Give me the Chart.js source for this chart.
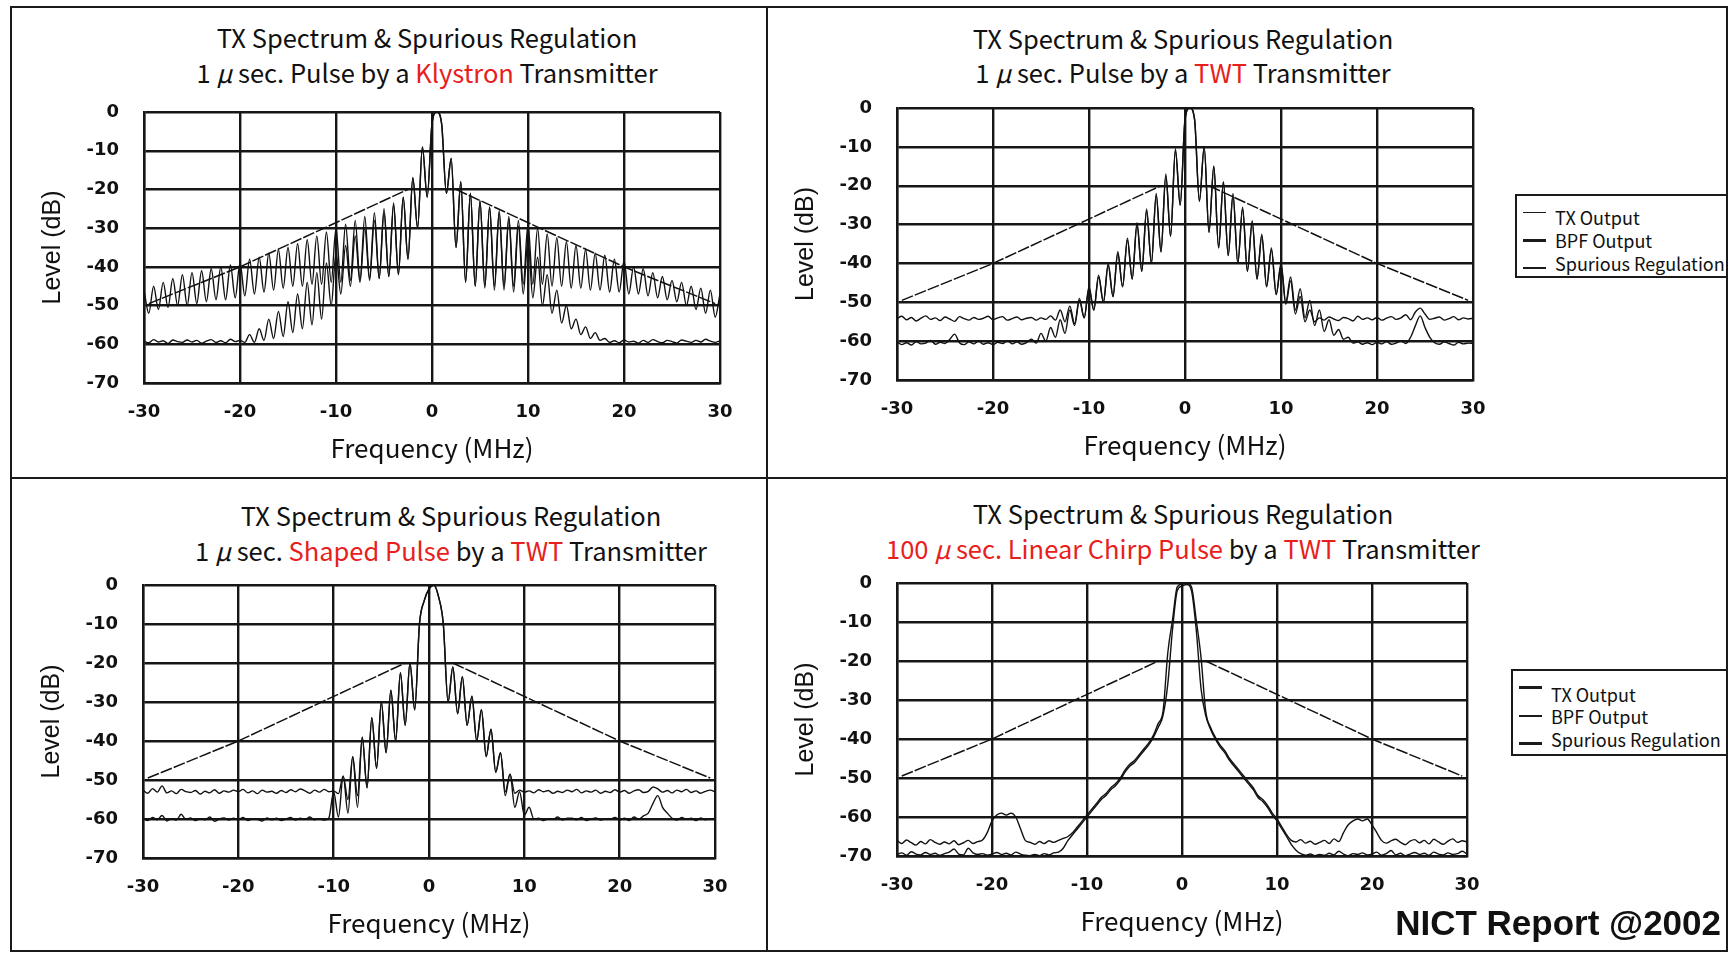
<!DOCTYPE html>
<html>
<head>
<meta charset="utf-8">
<title>TX Spectrum & Spurious Regulation</title>
<script src="https://cdn.jsdelivr.net/npm/chart.js@4.4.0/dist/chart.umd.min.js"></script>
<style>
  body { margin: 0; background: #fff; width: 1729px; height: 954px; position: relative; overflow: hidden; font-family: "Noto Sans CJK JP", sans-serif; color: #111; }
  .line { position: absolute; background: #1a1a1a; }
  .title { position: absolute; white-space: nowrap; font-size: 25.5px; line-height: 36px; transform: translateX(-50%); }
  .red { color: #e8201c; }
  .plot { position: absolute; }
  .legend { position: absolute; border: 2px solid #1a1a1a; box-sizing: border-box; background: #fff; }
  .legend div { position: absolute; left: 38px; font-size: 18px; line-height: 22px; white-space: nowrap; }
  .legend span { position: absolute; left: 6px; width: 23px; background: #1a1a1a; }
  .credit { position: absolute; right: 8px; top: 903px; font-family: "Liberation Sans", Arial, sans-serif; font-weight: bold; font-size: 35px; line-height: 40px; }
</style>
</head>
<body>

<!-- panel frames -->
<div class="line" style="left:10px;top:6px;width:1717px;height:2px"></div>
<div class="line" style="left:10px;top:950px;width:1717px;height:2px"></div>
<div class="line" style="left:10px;top:6px;width:2px;height:946px"></div>
<div class="line" style="left:1726px;top:6px;width:2px;height:946px"></div>
<div class="line" style="left:766px;top:6px;width:2px;height:946px"></div>
<div class="line" style="left:10px;top:477px;width:1717px;height:2px"></div>

<!-- titles -->
<div class="title" style="left:427px;top:19px">TX Spectrum &amp; Spurious Regulation</div>
<div class="title" style="left:427px;top:54px">1 <i>μ</i> sec. Pulse by a <span class="red">Klystron</span> Transmitter</div>
<div class="title" style="left:1183px;top:20px">TX Spectrum &amp; Spurious Regulation</div>
<div class="title" style="left:1183px;top:54px">1 <i>μ</i> sec. Pulse by a <span class="red">TWT</span> Transmitter</div>
<div class="title" style="left:451px;top:497px">TX Spectrum &amp; Spurious Regulation</div>
<div class="title" style="left:451px;top:532px">1 <i>μ</i> sec. <span class="red">Shaped Pulse</span> by a <span class="red">TWT</span> Transmitter</div>
<div class="title" style="left:1183px;top:495px">TX Spectrum &amp; Spurious Regulation</div>
<div class="title" style="left:1183px;top:530px"><span class="red">100 <i>μ</i> sec. Linear Chirp Pulse</span> by a <span class="red">TWT</span> Transmitter</div>

<div class="plot" style="left:34px;top:72px"><canvas id="klystron" width="726" height="393"></canvas></div>
<div class="plot" style="left:787px;top:68px"><canvas id="twt" width="726" height="394"></canvas></div>
<div class="plot" style="left:33px;top:545px"><canvas id="shaped" width="722" height="395"></canvas></div>
<div class="plot" style="left:787px;top:543px"><canvas id="chirp" width="720" height="395"></canvas></div>

<!-- legends -->
<div class="legend" style="left:1515px;top:194px;width:213px;height:84px">
  <span style="top:16px;height:1px"></span><div style="top:10px">TX Output</div>
  <span style="top:43px;height:3px"></span><div style="top:33px">BPF Output</div>
  <span style="top:71px;height:2px"></span><div style="top:56px">Spurious Regulation</div>
</div>
<div class="legend" style="left:1511px;top:669px;width:217px;height:87px">
  <span style="top:15px;height:3px"></span><div style="top:12px">TX Output</div>
  <span style="top:44px;height:2px"></span><div style="top:34px">BPF Output</div>
  <span style="top:71px;height:3px"></span><div style="top:57px">Spurious Regulation</div>
</div>

<div class="credit">NICT Report @2002</div>

<script>
// sample grid: -30 .. 30 MHz every 0.5 MHz (121 points)
let freq = [];
for (let i = 0; i <= 120; i++) freq.push(-30 + i * 0.5);

let freqTicks = [-30, -20, -10, 0, 10, 20, 30];
let levelTicks = [0, -10, -20, -30, -40, -50, -60, -70];

// spurious regulation mask (same in every panel)
let maskFreq = [-29.5, -20, -2.5, 0, 2.5, 20, 29.5];
let maskLevel = [-49.5, -40, -20, null, -20, -40, -49.5];

// 1 usec pulse, klystron
let klystronTx = [
  -46, -52, -45, -51, -44, -50.5, -43, -50, -42, -50,
  -41.5, -49.5, -41, -49, -40.5, -48.5, -40, -48.5, -39.5, -48,
  -39, -47.5, -38, -47, -37.5, -46.5, -36.5, -46, -35.5, -45.5,
  -35, -45, -34, -45, -33, -44.5, -32, -44.5, -31, -44,
  -30, -44, -29, -43.5, -28, -43.5, -27, -43, -26, -43,
  -25, -42.5, -23.5, -42, -22, -38, -17, -30, -9, -22,
  -3, 0, -3, -21, -12, -35, -18, -44, -21, -45,
  -23, -45, -24.5, -45, -25.5, -45, -27, -45, -28, -44.5,
  -29, -44.5, -30, -44.5, -31.5, -45, -32.5, -45, -33.5, -45.5,
  -34.5, -45.5, -35.5, -46, -36.5, -46, -37, -46.5, -38, -46.5,
  -38.5, -47, -40, -47, -40.5, -47.5, -41.5, -48, -42.5, -48.5,
  -43.5, -49, -44, -50, -45, -51, -45.5, -52, -46, -53,
  -47
];
let klystronBpf = [
  -59.2, -59.6, -58.8, -59.4, -59.1, -59.8, -58.9, -59.3, -59.5, -58.9,
  -59.4, -59.0, -59.7, -59.2, -58.8, -59.5, -59.1, -59.6, -58.7, -59.3,
  -59.0, -59.5, -57.5, -59.5, -56, -59, -53.5, -58.5, -51.5, -58,
  -49, -57, -47, -56, -44, -55, -41.5, -53.5, -39, -50,
  -36.5, -47, -34.5, -45, -32, -44, -30, -43.5, -28, -43,
  -26, -42.5, -24, -42, -22, -38, -17, -30, -9, -22,
  -3, 0, -3, -21, -12, -35, -18, -44, -21, -45,
  -23, -45.5, -24.5, -46, -26, -46, -27.5, -46.5, -29.5, -47,
  -33, -48, -37.5, -50, -42, -52, -46, -54.5, -50, -56,
  -53.5, -57.5, -55.5, -58.5, -57, -59, -58.5, -59.5, -59.1, -59.6,
  -58.9, -59.4, -59.2, -59.7, -59.0, -59.5, -58.8, -59.3, -59.6, -59.0,
  -59.3, -59.7, -58.9, -59.2, -59.5, -59.0, -59.4, -58.7, -59.2, -59.5,
  -59.1
];

// 1 usec pulse, TWT
let twtTx = [
  -60.2, -60.9, -60.4, -61.0, -60.1, -60.7, -60.5, -59.8, -60.8, -60.3,
  -60.6, -59.5, -58.2, -60.4, -60.9, -60.2, -60.7, -60.0, -60.8, -60.4,
  -60.9, -60.3, -60.6, -59.9, -60.7, -60.2, -60.8, -60.4, -59.5, -60.5,
  -58, -60, -56.5, -59, -54.5, -58, -52, -56, -49.5, -54,
  -46.5, -52, -43.5, -50, -40.5, -48.5, -37.5, -46, -34, -44,
  -30, -42, -26.5, -40, -22.5, -37, -17.5, -33, -11, -25,
  -3, 0, -3, -24, -10, -32, -15, -36, -19, -38,
  -22.5, -40, -26, -42, -29.5, -44, -33, -46, -36.5, -48,
  -40, -50, -43.5, -52, -46.5, -54, -49.5, -56, -52, -57.5,
  -54.5, -58.5, -57, -59.5, -59, -60.5, -60.2, -60.8, -60.4, -60.9,
  -60.3, -60.7, -60.1, -60.8, -60.5, -60.0, -60.6, -59, -56, -53.5,
  -56.5, -59, -60.4, -60.8, -60.2, -60.6, -61.0, -60.3, -60.7, -60.5,
  -60.6
];
let twtBpf = [
  -54.2, -53.6, -54.5, -53.9, -54.8, -54.1, -53.5, -54.4, -54.0, -54.7,
  -53.8, -54.3, -54.9, -53.7, -54.2, -54.6, -53.9, -54.4, -54.1, -53.6,
  -54.5, -54.0, -53.7, -54.6, -54.2, -53.8, -54.5, -54.1, -53.9, -54.6,
  -54.0, -54.4, -53.5, -54.6, -52, -55, -51, -55.5, -49, -54,
  -46, -52, -43, -50, -40, -48.5, -37, -46, -33.5, -44,
  -29.5, -42, -26, -40, -22, -37, -17, -33, -10.5, -25,
  -3, 0, -3, -24, -10, -32, -15, -36, -19, -38,
  -22, -40, -25.5, -42, -29, -44, -32.5, -46, -36, -48,
  -40.5, -50.5, -44.5, -53, -48.5, -55, -52, -55, -54, -54.6,
  -53.8, -54.3, -54.7, -53.9, -54.2, -54.8, -53.6, -54.4, -54.0, -54.5,
  -53.9, -54.6, -54.1, -53.7, -54.4, -54.0, -53.2, -54.5, -52.5, -51.5,
  -53, -54.4, -54.1, -53.8, -54.6, -54.2, -53.7, -54.5, -54.0, -54.3,
  -54.1
];

// 1 usec shaped pulse, TWT
let shapedTx = [
  -59.8, -60.4, -59.6, -60.2, -59.1, -60.5, -59.9, -60.3, -58.8, -60.1,
  -59.7, -60.4, -59.9, -60.2, -59.5, -60.6, -60.0, -59.7, -60.3, -59.8,
  -60.2, -59.6, -60.4, -59.9, -60.1, -60.5, -59.7, -60.2, -59.8, -60.4,
  -60.0, -59.6, -60.3, -59.8, -60.1, -59.5, -60.2, -59.9, -60.3, -59.7,
  -53, -59.5, -49, -58.5, -44, -57, -39, -52, -34, -47,
  -30, -43, -27, -40, -22.5, -36, -20, -32, -10, -4,
  -1, 0, -3, -10, -30, -21, -33, -23.5, -36, -28.5,
  -40, -32, -44, -37, -48, -43, -54, -48.5, -57, -53,
  -59, -57, -60, -59.8, -60.4, -59.9, -60.1, -59.5, -60.3, -59.8,
  -59.8, -60.2, -59.6, -60.4, -60.0, -59.7, -60.3, -59.9, -60.1, -59.6,
  -60.2, -59.8, -60.4, -59.5, -60.0, -59.2, -58.5, -56, -54, -57,
  -58.5, -59.8, -60.3, -59.6, -60.1, -59.8, -60.4, -59.7, -60.2, -59.9,
  -60.0
];
let shapedBpf = [
  -52.6, -53.4, -52.2, -53.1, -51.5, -53.3, -52.8, -53.5, -52.4, -53.0,
  -53.2, -52.7, -53.6, -52.9, -53.3, -52.5, -53.4, -52.8, -53.1, -52.6,
  -53.0, -52.4, -53.3, -52.8, -53.5, -52.6, -53.1, -52.9, -53.4, -52.7,
  -53.2, -52.5, -53.0, -52.3, -52.8, -53.4, -52.6, -53.1, -52.4, -53.0,
  -52.8, -53.5, -49, -55, -44, -54, -39, -52, -34, -47,
  -30, -43, -27, -40, -22.5, -36, -20, -32, -10, -4,
  -1, 0, -3, -10, -30, -21, -33, -23.5, -36, -28.5,
  -40, -32, -44, -37, -48, -43, -53, -48.5, -53.4, -52.6,
  -53.1, -52.8, -53.3, -52.5, -53.0, -52.7, -53.4, -52.9, -53.2, -52.6,
  -53.0, -52.4, -53.3, -52.8, -53.1, -52.6, -53.4, -52.9, -53.2, -52.5,
  -53.1, -52.7, -53.4, -52.8, -52.5, -53.2, -52.9, -51.8, -52.3, -53.1,
  -52.7, -53.3, -52.6, -53.0, -52.4, -53.2, -52.8, -53.4, -52.9, -52.6,
  -53.0
];

// 100 usec linear chirp pulse, TWT
let chirpTx = [
  -66.0, -66.8, -65.9, -66.6, -67.2, -66.3, -66.9, -65.8, -66.5, -67.0,
  -66.4, -66.9, -66.1, -67.1, -66.6, -66.0, -66.8, -66.3, -65.9, -64,
  -61, -59.5, -59, -59.5, -59, -60, -63, -66, -66.5, -67,
  -66.3, -66.8, -66.1, -66.5, -66.0, -65.5, -65, -64, -62.5, -61,
  -59.5, -58, -56.5, -55, -54, -52.5, -51.5, -50, -48, -46.5,
  -45.5, -44, -42.5, -41, -39, -36, -33, -18, -9.5, -1,
  -0.3, 0, -1, -9.5, -19, -33, -37, -39.5, -41.5, -43,
  -45, -46.5, -48, -49.5, -51, -52.5, -54.5, -55.5, -57, -59,
  -60.5, -62.5, -64.5, -66, -66.4, -65.8, -66.7, -66.2, -67.0, -66.5,
  -66.0, -66.8, -65.6, -66.3, -64, -62, -61, -60.5, -61, -60.5,
  -62, -64, -66, -66.7, -66.1, -65.7, -66.5, -67.1, -66.2, -65.8,
  -66.6, -66.0, -66.9, -65.7, -66.4, -67.0, -66.2, -65.6, -66.5, -66.1,
  -66.4
];
let chirpBpf = [
  -69.6, -69.2, -69.8, -68.9, -69.5, -69.7, -69.1, -69.6, -69.3, -69.8,
  -69.4, -69.0, -68.2, -69.5, -69.7, -68.0, -69.2, -69.6, -69.4, -69.8,
  -69.5, -69.1, -69.6, -69.3, -69.7, -69.0, -69.5, -69.8, -69.9, -69.6,
  -69.9, -69.4, -69.7, -69.2, -69.0, -68, -66, -64.5, -63, -61.5,
  -60, -58.5, -57, -55.5, -54.5, -53, -52, -50.5, -48.5, -47,
  -46, -44.5, -43, -41.5, -39.5, -37, -34, -26, -12, -2,
  -0.8, -0.4, -2, -12, -27, -34, -37.5, -40, -42, -43.5,
  -45.5, -47, -48.5, -50, -51.5, -53, -55, -56, -57.5, -59.5,
  -61, -63, -65, -67, -68.5, -69.4, -69.8, -69.5, -69.9, -69.6,
  -69.8, -69.3, -69.7, -68.8, -69.5, -69.9, -69.4, -69.6, -69.2, -69.7,
  -69.5, -69.0, -69.8, -69.4, -68.6, -69.7, -69.3, -69.9, -69.5, -69.1,
  -69.6, -69.3, -69.8, -69.0, -69.5, -69.7, -69.2, -69.6, -69.4, -68.8,
  -69.5
];

function toPoints(xs, ys) {
  return xs.map(function(x, i) { return { x: x, y: ys[i] }; });
}

function makePanel(canvasId, txLevels, bpfLevels) {
  let ctx = document.getElementById(canvasId).getContext('2d');
  let tickFont = { family: 'DejaVu Sans', weight: 'bold', size: 18 };

  new Chart(ctx, {
    type: 'line',
    data: {
      datasets: [
        { label: 'TX Output', data: toPoints(freq, txLevels), borderColor: '#111', borderWidth: 1.4, cubicInterpolationMode: 'monotone' },
        { label: 'BPF Output', data: toPoints(freq, bpfLevels), borderColor: '#111', borderWidth: 1.4, cubicInterpolationMode: 'monotone' },
        { label: 'Spurious Regulation', data: toPoints(maskFreq, maskLevel), borderColor: '#111', borderWidth: 1.5, borderDash: [12, 2], spanGaps: false }
      ]
    },
    options: {
      responsive: false,
      animation: false,
      // top/right padding leave room for the tick label overflow, so the plot box lands where the scan has it
      layout: { padding: { left: 0, top: 40, right: 40, bottom: 0 } },
      elements: { point: { radius: 0 }, line: { tension: 0 } },
      plugins: { legend: { display: false }, tooltip: { enabled: false } },
      scales: {
        x: {
          type: 'linear',
          min: -30,
          max: 30,
          afterBuildTicks: function(scale) { scale.ticks = freqTicks.map(function(v) { return { value: v }; }); },
          afterFit: function(scale) { scale.height = 82; },
          ticks: { font: tickFont, color: '#111', padding: 19, maxRotation: 0, autoSkip: false },
          grid: { color: '#161616', lineWidth: 2.4, drawTicks: false },
          border: { color: '#161616', width: 2.4 },
          title: { display: true, text: 'Frequency (MHz)', color: '#111', font: { family: 'Noto Sans CJK JP', size: 26 }, padding: { top: 0, bottom: 1 } }
        },
        y: {
          min: -70,
          max: 0,
          afterBuildTicks: function(scale) { scale.ticks = levelTicks.map(function(v) { return { value: v }; }); },
          afterFit: function(scale) { scale.width = 110; },
          ticks: { font: tickFont, color: '#111', padding: 25, autoSkip: false },
          grid: { color: '#161616', lineWidth: 2.4, drawTicks: false },
          border: { color: '#161616', width: 2.4 },
          title: { display: true, text: 'Level (dB)', color: '#111', font: { family: '"Liberation Sans", Arial', size: 25 }, padding: { top: 4, bottom: 0 } }
        }
      }
    }
  });
}

makePanel('klystron', klystronTx, klystronBpf);
makePanel('twt', twtTx, twtBpf);
makePanel('shaped', shapedTx, shapedBpf);
makePanel('chirp', chirpTx, chirpBpf);
</script>
</body>
</html>
